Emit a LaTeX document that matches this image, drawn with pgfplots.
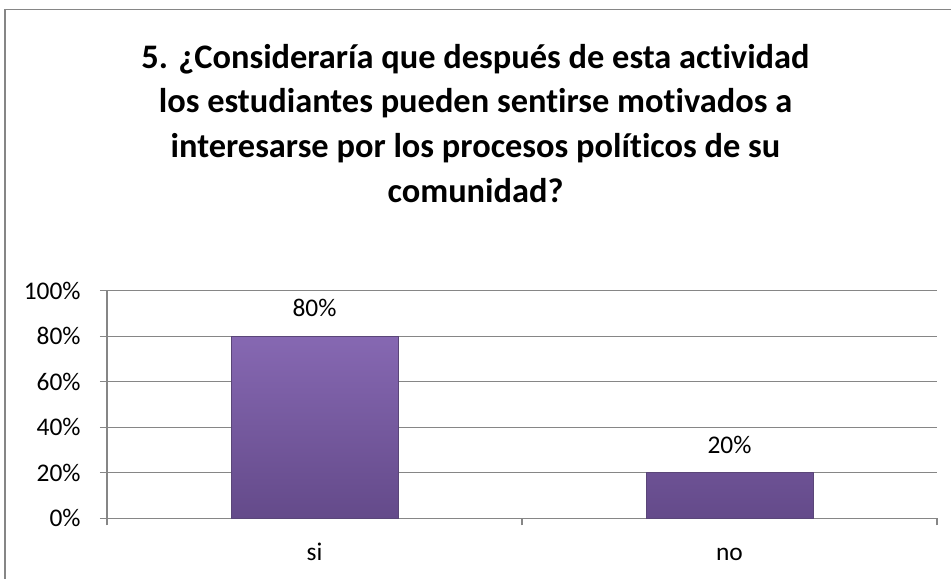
\documentclass[border=0pt]{standalone}
\usepackage{fontspec}
\setmainfont{Carlito}[RawFeature=-liga]
\usepackage{pgfplots}
\pgfplotsset{compat=1.18}

\definecolor{barTop}{RGB}{134,104,178}
\definecolor{barBot}{RGB}{100,74,138}
\definecolor{barEdge}{RGB}{90,70,120}
\definecolor{axisGray}{RGB}{134,134,134}

\begin{document}
\begin{tikzpicture}
\useasboundingbox (0,0) rectangle (475.5pt,289pt);
% outer chart border
\draw[axisGray, line width=0.8pt] (2.5pt,-10pt) rectangle (485pt,284.25pt);

% title
\begin{scope}[every node/.style={anchor=base, inner sep=0pt, font=\fontsize{17.2}{22}\selectfont\bfseries}]
\node at (237.75pt,254.85pt) {5. ¿Consideraría que después de esta actividad};
\node at (237.75pt,232.5pt) {los estudiantes pueden sentirse motivados a};
\node at (237.75pt,210.15pt) {interesarse por los procesos políticos de su};
\node at (237.75pt,187.8pt) {comunidad?};
\end{scope}

\begin{axis}[
    at={(53.5pt,29.85pt)}, anchor=south west,
    scale only axis,
    width=415pt, height=113.8pt,
    ymin=0, ymax=100,
    xmin=-0.5, xmax=1.5,
    axis x line=bottom, axis y line=left,
    axis line style={-, axisGray, line width=0.6pt},
    /pgf/number format/assume math mode=true,
    ytick={0,20,...,100},
    yticklabel={\pgfmathprintnumber{\tick}\%},
    yticklabel style={anchor=east, inner sep=0pt, xshift=-9.5pt},
    xtick={0,1},
    xticklabels={si,no},
    xticklabel style={anchor=base, inner sep=0pt, yshift=-17.5pt},
    minor xtick={-0.5,0.5,1.5},
    tick align=outside,
    major tick length=3.5pt,
    minor tick length=3.5pt,
    xtick style={draw=none},
    minor x tick style={draw=axisGray, line width=0.6pt},
    ytick style={draw=axisGray, line width=0.6pt},
    ymajorgrids,
    grid style={axisGray, line width=0.6pt},
    ticklabel style={font=\fontsize{12.7}{15}\selectfont},
    nodes near coords={\pgfmathprintnumber{\pgfplotspointmeta}\%},
    every node near coord/.append style={anchor=base, inner sep=0pt, yshift=9.7pt, font=\fontsize{12.7}{15}\selectfont},
    clip=false,
]
\addplot[ybar, bar width=83.5pt, top color=barTop, bottom color=barBot, draw=barEdge, line width=0.5pt]
    coordinates {(0,80) (1,20)};
\end{axis}
\end{tikzpicture}
\end{document}
